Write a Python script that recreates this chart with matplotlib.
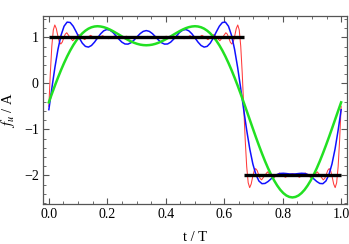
import numpy as np
import matplotlib.pyplot as plt

plt.rcParams['font.family'] = ['Liberation Serif', 'DejaVu Serif']
plt.rcParams['mathtext.fontset'] = 'stix'

# ideal square wave
t_high = [0.0, 2 / 3]
t_low = [2 / 3, 1.0]
level_high = 1.0
level_low = -2.0

# sample positions for the two low order sums
t = np.arange(97) / 96

green = [-0.414, -0.228, -0.048, 0.124, 0.288, 0.441, 0.583, 0.712, 0.827, 0.928,
         1.015, 1.087, 1.144, 1.188, 1.218, 1.235, 1.241, 1.235, 1.221, 1.199,
         1.170, 1.136, 1.098, 1.059, 1.019, 0.980, 0.943, 0.910, 0.881, 0.858,
         0.841, 0.831, 0.827, 0.831, 0.841, 0.858, 0.881, 0.910, 0.943, 0.980,
         1.019, 1.059, 1.098, 1.136, 1.170, 1.199, 1.221, 1.235, 1.241, 1.235,
         1.218, 1.188, 1.144, 1.087, 1.015, 0.928, 0.827, 0.712, 0.583, 0.441,
         0.288, 0.124, -0.048, -0.228, -0.414, -0.602, -0.793, -0.983, -1.170, -1.351,
         -1.526, -1.692, -1.846, -1.987, -2.113, -2.222, -2.314, -2.386, -2.439, -2.470,
         -2.481, -2.470, -2.439, -2.386, -2.314, -2.222, -2.113, -1.987, -1.846, -1.692,
         -1.526, -1.351, -1.170, -0.983, -0.793, -0.602, -0.414]

blue = [-0.573, -0.102, 0.348, 0.739, 1.043, 1.241, 1.330, 1.322, 1.241, 1.117,
        0.984, 0.872, 0.803, 0.787, 0.822, 0.895, 0.987, 1.075, 1.140, 1.169,
        1.157, 1.109, 1.037, 0.960, 0.894, 0.855, 0.852, 0.883, 0.941, 1.013,
        1.081, 1.129, 1.146, 1.129, 1.081, 1.013, 0.941, 0.883, 0.852, 0.855,
        0.894, 0.960, 1.037, 1.109, 1.157, 1.169, 1.140, 1.075, 0.987, 0.895,
        0.822, 0.787, 0.803, 0.872, 0.984, 1.117, 1.241, 1.322, 1.330, 1.241,
        1.043, 0.739, 0.348, -0.102, -0.573, -1.027, -1.429, -1.752, -1.984, -2.124,
        -2.182, -2.177, -2.135, -2.076, -2.021, -1.981, -1.960, -1.956, -1.962, -1.970,
        -1.973, -1.970, -1.962, -1.956, -1.960, -1.981, -2.021, -2.076, -2.135, -2.177,
        -2.182, -2.124, -1.984, -1.752, -1.429, -1.027, -0.573]

# high order sum
t_red = [0.0, 0.0051, 0.0102, 0.0153, 0.0204, 0.0255, 0.0306, 0.0357, 0.0408, 0.0459,
         0.0510, 0.0561, 0.0612, 0.0714, 0.0816, 0.0918, 0.1020, 0.1122, 0.1224, 0.1327,
         0.1429, 0.1531, 0.1633, 0.1735, 0.1837, 0.1939, 0.2041, 0.2143, 0.2245, 0.2347,
         0.2449, 0.2551, 0.2653, 0.2755, 0.2857, 0.2959, 0.3061, 0.3163, 0.3265, 0.3384,
         0.3505, 0.3607, 0.3709, 0.3811, 0.3913, 0.4015, 0.4117, 0.4219, 0.4321, 0.4423,
         0.4525, 0.4627, 0.4729, 0.4831, 0.4933, 0.5035, 0.5137, 0.5239, 0.5341, 0.5443,
         0.5545, 0.5647, 0.5749, 0.5851, 0.5953, 0.6055, 0.6106, 0.6157, 0.6208, 0.6259,
         0.6310, 0.6361, 0.6412, 0.6463, 0.6514, 0.6565, 0.6616, 0.6667, 0.6718, 0.6769,
         0.6820, 0.6871, 0.6922, 0.6973, 0.7024, 0.7075, 0.7126, 0.7177, 0.7228, 0.7279,
         0.7381, 0.7483, 0.7585, 0.7687, 0.7789, 0.7891, 0.7993, 0.8095, 0.8197, 0.8333,
         0.8470, 0.8572, 0.8674, 0.8776, 0.8878, 0.8980, 0.9082, 0.9184, 0.9286, 0.9388,
         0.9439, 0.9490, 0.9541, 0.9592, 0.9643, 0.9694, 0.9745, 0.9796, 0.9847, 0.9898,
         0.9949, 1.0]
red = [-0.5, 0.224, 0.809, 1.161, 1.268, 1.190, 1.035, 0.903, 0.854, 0.896,
       0.986, 1.068, 1.099, 1.008, 0.925, 0.995, 1.060, 1.003, 0.950, 1.0,
       1.043, 1.0, 0.962, 1.0, 1.034, 1.0, 0.970, 1.0, 1.028, 1.0,
       0.975, 1.0, 1.023, 1.0, 0.978, 1.0, 1.020, 1.0, 0.981, 1.020,
       1.0, 1.020, 1.0, 0.978, 1.0, 1.023, 1.0, 0.975, 1.0, 1.028,
       1.0, 0.970, 1.0, 1.034, 1.0, 0.962, 1.0, 1.043, 1.0, 0.950,
       1.003, 1.060, 0.995, 0.925, 1.008, 1.099, 1.068, 0.986, 0.896, 0.854,
       0.903, 1.035, 1.190, 1.268, 1.161, 0.809, 0.224, -0.5, -1.224, -1.809,
       -2.161, -2.268, -2.190, -2.035, -1.903, -1.854, -1.896, -1.986, -2.068, -2.099,
       -2.008, -1.925, -1.995, -2.060, -2.003, -1.950, -2.0, -2.043, -2.0, -1.962,
       -2.0, -2.043, -2.0, -1.950, -2.003, -2.060, -1.995, -1.925, -2.008, -2.099,
       -2.068, -1.986, -1.896, -1.854, -1.903, -2.035, -2.190, -2.268, -2.161, -1.809,
       -1.224, -0.5]

fig = plt.figure(figsize=(3.49, 2.44), dpi=100)
ax = fig.add_axes([0.1232, 0.1639, 0.871, 0.7705])

ax.plot(t_red, red, color='#ff3a3a', lw=0.75)
ax.plot(t, blue, color='#1010ff', lw=1.1)
ax.plot(t, green, color='#22e022', lw=1.8)
ax.hlines(level_high, t_high[0], t_high[1], color='black', lw=2.4)
ax.hlines(level_low, t_low[0], t_low[1], color='black', lw=2.4)

ax.set_xlim(-0.02, 1.02)
ax.set_ylim(-2.624, 1.463)
ax.set_xticks([0.0, 0.2, 0.4, 0.6, 0.8, 1.0])
ax.set_xticks(np.arange(0, 1.01, 0.05), minor=True)
ax.set_yticks([-2, -1, 0, 1])
ax.set_yticks(np.arange(-2.6, 1.45, 0.2), minor=True)
ax.set_yticklabels(['\u22122', '\u22121', '0', '1'])
ax.tick_params(which='both', direction='in', top=True, right=True,
               color='#555555', labelsize=10, pad=3)
ax.tick_params(which='major', length=4, width=0.8)
ax.tick_params(which='minor', length=2.2, width=0.6)
for s in ax.spines.values():
    s.set_color('#555555')
    s.set_linewidth(0.9)

ax.set_xlabel('t / T', fontsize=10.5, labelpad=7)
ax.set_ylabel(r'$f_u$ / A', fontsize=10.5, labelpad=5)

fig.savefig('out.png', dpi=100)
